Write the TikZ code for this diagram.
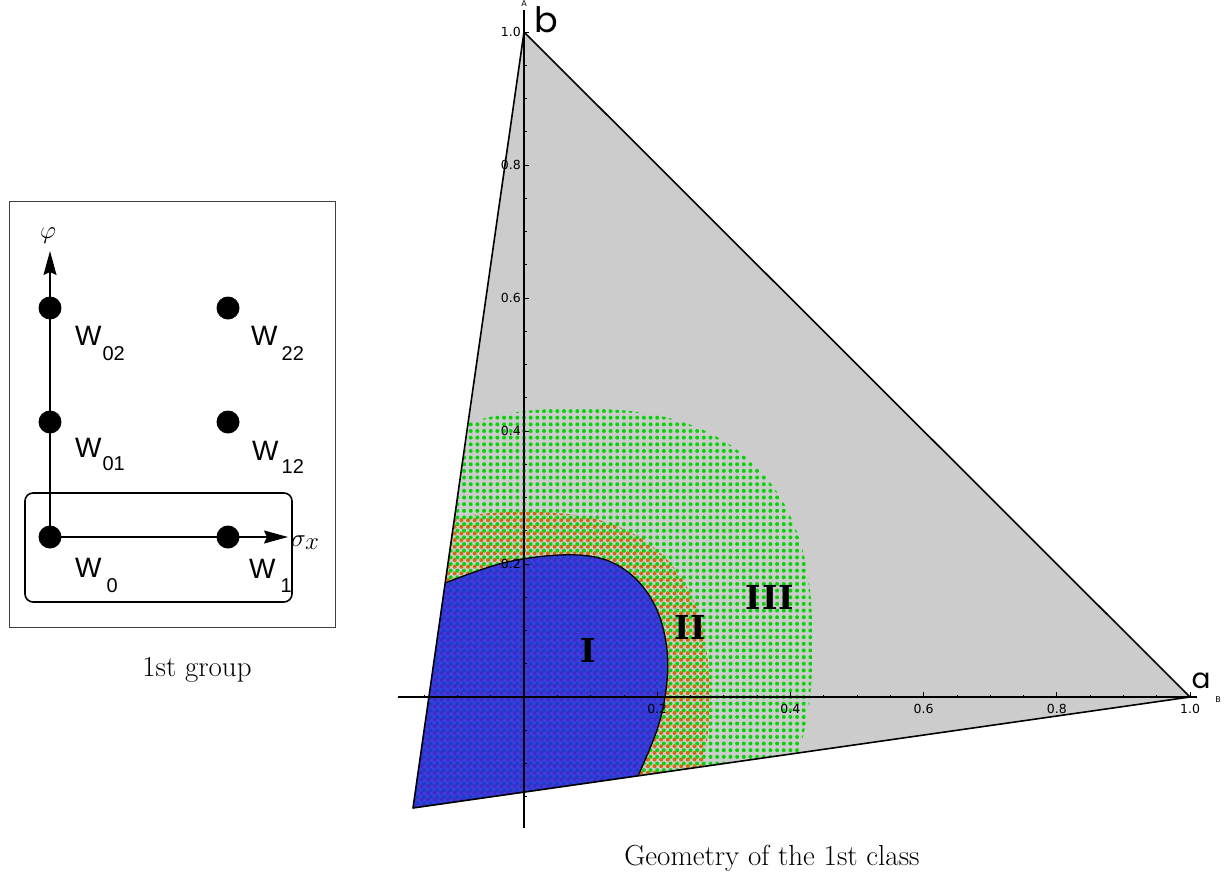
\documentclass[tikz,border=0pt]{standalone}
\usepackage{fontspec}
\usetikzlibrary{arrows.meta}
\newfontfamily\wfont{Liberation Sans}
\newfontfamily\popfont{Poppins}
\newfontfamily\tickfont{DejaVu Sans}
\newfontfamily\romfont{DejaVu Serif}
\definecolor{trigray}{RGB}{204,204,204}
\definecolor{dotgreen}{RGB}{10,210,10}
\definecolor{dotorange}{RGB}{210,105,10}
\definecolor{regblue}{RGB}{30,30,235}
\begin{document}
\begin{tikzpicture}[x=1pt,y=-1pt,
  bigdot/.style={circle,fill=black,inner sep=0pt,minimum size=23pt},
  wlab/.style={anchor=base west,inner sep=0pt,font=\wfont\fontsize{28}{28}\selectfont},
  ticklab/.style={inner sep=0pt,font=\tickfont\fontsize{12.5}{12.5}\selectfont},
  axlab/.style={inner sep=0pt,font=\tickfont\fontsize{8}{8}\selectfont},
  capt/.style={inner sep=0pt,anchor=base,font=\fontsize{29}{32}\selectfont},
  roman/.style={inner sep=0pt,font=\romfont\bfseries\fontsize{33}{33}\selectfont},
  axarrow/.style={line width=1.4pt,-{Stealth[length=24pt,width=13pt,inset=3pt]}},
  tick/.style={line width=0.8pt},
]
\useasboundingbox (0,0) rectangle (1226,886);

% ---------------- left panel ----------------
\draw[line width=1pt,black!75] (9,201) rectangle (335,627);
\draw[line width=1.6pt,rounded corners=8pt] (25,493) rectangle (292,602);
\coordinate (phitip) at (50,251);
\coordinate (sigtip) at (288,537);
\node[bigdot] (d0) at (50,537) {};
\draw[axarrow] (d0.center) -- (phitip);
\draw[axarrow] (d0.center) -- (sigtip);
\node[bigdot] (d1) at (228,537) {};
\node[bigdot] (d01) at (50,422) {};
\node[bigdot] (d12) at (228,422) {};
\node[bigdot] (d02) at (50,308) {};
\node[bigdot] (d22) at (228,308) {};
\node[inner sep=0pt,anchor=base,font=\fontsize{31}{31}\selectfont] (phi) at (48,238) {$\varphi$};
\node[inner sep=0pt,anchor=base west,font=\fontsize{33}{33}\selectfont] (sig) at (291,546) {$\sigma_x$};
\node[wlab] (w02) at (75,345) {W\kern1pt\raisebox{-15pt}{\fontsize{20}{20}\selectfont 02}};
\node[wlab] (w22) at (251,345) {W\kern4pt\raisebox{-15pt}{\fontsize{20}{20}\selectfont 22}};
\node[wlab] (w01) at (75,457) {W\kern1pt\raisebox{-13pt}{\fontsize{20}{20}\selectfont 01}};
\node[wlab] (w12) at (252,460) {W\kern3pt\raisebox{-13pt}{\fontsize{20}{20}\selectfont 12}};
\node[wlab] (w0) at (75,577) {W\kern5pt\raisebox{-15pt}{\fontsize{20}{20}\selectfont 0}};
\node[wlab] (w1) at (249,578) {W\kern5pt\raisebox{-14pt}{\fontsize{20}{20}\selectfont 1}};
\node[capt] (cap1) at (197,676) {1st group};

% ---------------- right panel ----------------
\coordinate (B) at (524,32);
\coordinate (A) at (1190,697);
\coordinate (C) at (413,808);
\fill[trigray] (B) -- (A) -- (C) -- cycle;

\begin{scope}
  \clip (B) -- (A) -- (C) -- cycle;
  % region III dots (green)
  \begin{scope}
    \clip plot[smooth cycle,domain=1:357,samples=90,variable=\t]
      ({577.3+235*sign(cos(\t))*abs(cos(\t))^0.8},{643.8-235*sign(sin(\t))*abs(sin(\t))^0.8});
    \foreach \j in {-17,...,43}{
      \fill[dotgreen] \foreach \i in {-17,...,43}{({524+\i*6.66},{697-\j*6.65}) circle (2)};
    }
  \end{scope}
  % region II dots (orange)
  \begin{scope}
    \clip plot[smooth cycle,domain=1:357,samples=90,variable=\t]
      ({524+185*sign(cos(\t))*abs(cos(\t))^0.8},{697-185*sign(sin(\t))*abs(sin(\t))^0.8});
    \foreach \j in {-17,...,29}{
      \fill[dotorange] \foreach \i in {-17,...,29}{({521.3+\i*6.66},{699.7-\j*6.65}) circle (2)};
    }
  \end{scope}
  % region I (blue)
  \fill[regblue,fill opacity=0.82] plot[smooth,tension=0.6] coordinates
    {(445,583) (503,563) (560,555) (603,559) (635,578) (657,610) (667,650) (666,690) (657,730) (638,776)}
    -- (C) -- cycle;
\end{scope}
\draw[line width=1.3pt] plot[smooth,tension=0.6] coordinates
    {(445,583) (503,563) (560,555) (603,559) (635,578) (657,610) (667,650) (666,690) (657,730) (638,776)};
\draw[line width=1.6pt,line join=round] (B) -- (A) -- (C) -- cycle;

% axes
\coordinate (xl) at (398,697);
\coordinate (xr) at (1197,697);
\coordinate (yb) at (524,828);
\coordinate (yt) at (524,10);
\draw[line width=1.2pt] (xl) -- (xr);
\draw[line width=1.2pt] (yb) -- (yt);
\foreach \k in {-3,...,20}{
  \pgfmathsetmacro\tl{mod(\k+40,4)==0 ? 5 : 2.5}
  \draw[tick] ({524+\k*33.3},697) -- ++(0,-\tl);
}
\foreach \k in {-3,...,20}{
  \pgfmathsetmacro\tl{mod(\k+40,4)==0 ? 5 : 2.5}
  \draw[tick] (524,{697-\k*33.25}) -- ++(\tl,0);
}
\foreach \m/\t in {1/0.2,2/0.4,3/0.6,4/0.8,5/1.0}{
  \node[ticklab] (xt\m) at ({524+\m*133.2},709) {\t};
  \node[ticklab,anchor=east] (yt\m) at (521,{697-\m*133}) {\t};
}
\node[axlab] (labA) at (524,4) {A};
\node[axlab] (labB) at (1218,700) {B};
\node[inner sep=0pt,anchor=base,font=\popfont\fontsize{35}{35}\selectfont] (lb) at (546,32) {b};
\node[inner sep=0pt,anchor=base,font=\popfont\fontsize{28}{28}\selectfont] (la) at (1201,688) {a};
\node[roman] (r1) at (588,650) {I};
\node[roman] (r2) at (690,627) {I\kern1pt I};
\node[roman] (r3) at (770,597) {I\kern1pt I\kern1pt I};
\node[capt] (cap2) at (772,865) {Geometry of the 1st class};
\end{tikzpicture}
\end{document}
